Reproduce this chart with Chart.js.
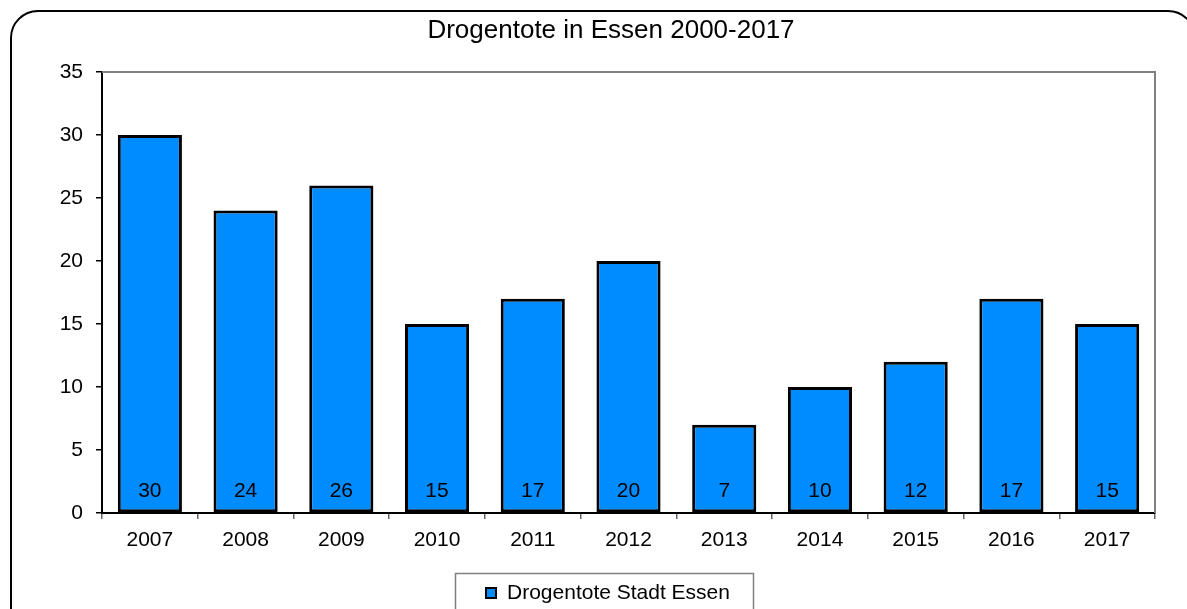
<!DOCTYPE html>
<html>
<head>
<meta charset="utf-8">
<script src="https://cdn.jsdelivr.net/npm/chart.js@4/dist/chart.umd.min.js"></script>
<style>
  html, body { margin: 0; padding: 0; background: #fff; }
  #wrap { width: 1187px; height: 609px; position: relative; }
</style>
</head>
<body>
<div id="wrap"><canvas id="drogenChart" width="1187" height="609"></canvas></div>
<script>
// Daten
const jahre = ['2007', '2008', '2009', '2010', '2011', '2012', '2013', '2014', '2015', '2016', '2017'];
const drogentote = [30, 24, 26, 15, 17, 20, 7, 10, 12, 17, 15];
const yTicks = [0, 5, 10, 15, 20, 25, 30, 35];

const fontName = '"Liberation Sans", Arial, sans-serif';

// Rahmen, Titel, Plotrand, Werte und Legende
const rahmenPlugin = {
    id: 'rahmen',
    beforeDraw(chart) {
        const c = chart.ctx;
        c.save();
        c.fillStyle = '#fff';
        c.fillRect(0, 0, chart.width, chart.height);
        // abgerundeter Rahmen
        c.strokeStyle = '#000';
        c.lineWidth = 2;
        const x = 11, y = 11, w = 1184, h = 650, r = 27;
        c.beginPath();
        c.moveTo(x + r, y);
        c.lineTo(x + w - r, y);
        c.arcTo(x + w, y, x + w, y + r, r);
        c.lineTo(x + w, y + h);
        c.lineTo(x, y + h);
        c.lineTo(x, y + r);
        c.arcTo(x, y, x + r, y, r);
        c.closePath();
        c.stroke();
        // Titel
        c.fillStyle = '#000';
        c.font = '26px ' + fontName;
        c.textAlign = 'center';
        c.textBaseline = 'middle';
        c.fillText('Drogentote in Essen 2000-2017', 611, 31);
        c.restore();
    },
    afterDatasetsDraw(chart) {
        const c = chart.ctx;
        const a = chart.chartArea;
        c.save();
        // grauer Plotrand oben/rechts
        c.strokeStyle = '#808080';
        c.lineWidth = 2;
        c.beginPath();
        c.moveTo(a.left, a.top);
        c.lineTo(a.right, a.top);
        c.lineTo(a.right, a.bottom);
        c.stroke();
        // Werte unten in den Balken
        const meta = chart.getDatasetMeta(0);
        const yS = chart.scales.y;
        c.fillStyle = '#000';
        c.font = '21px ' + fontName;
        c.textAlign = 'center';
        c.textBaseline = 'middle';
        meta.data.forEach((bar, i) => {
            c.fillText(String(drogentote[i]), bar.x, yS.getPixelForValue(0) - 22);
        });
        // Legende
        c.strokeStyle = '#808080';
        c.lineWidth = 1.5;
        c.strokeRect(455.5, 573.5, 298, 50);
        c.fillStyle = '#008cff';
        c.fillRect(486, 588, 10, 10);
        c.strokeStyle = '#000';
        c.lineWidth = 2;
        c.strokeRect(486, 588, 10, 10);
        c.fillStyle = '#000';
        c.textAlign = 'left';
        c.font = '21px ' + fontName;
        c.fillText(chart.data.datasets[0].label, 507, 593);
        c.restore();
    }
};

const ctx = document.getElementById('drogenChart').getContext('2d');
new Chart(ctx, {
    type: 'bar',
    data: {
        labels: jahre,
        datasets: [{
            label: 'Drogentote Stadt Essen',
            data: drogentote,
            backgroundColor: '#008cff',
            borderColor: '#000',
            borderWidth: 3,
            borderSkipped: false,
            barPercentage: 0.67,
            categoryPercentage: 1.0
        }]
    },
    options: {
        responsive: false,
        animation: false,
        layout: { padding: { left: 0, top: 72, right: 32, bottom: 0 } },
        plugins: {
            legend: { display: false },
            title: { display: false },
            tooltip: { enabled: false }
        },
        scales: {
            x: {
                offset: true,
                grid: {
                    offset: true,
                    drawOnChartArea: false,
                    drawTicks: true,
                    tickLength: 6,
                    color: '#666',
                    lineWidth: 1.5
                },
                border: { display: true, color: '#000', width: 2 },
                ticks: {
                    color: '#000',
                    font: { family: fontName, size: 21 },
                    padding: 9,
                    maxRotation: 0
                },
                afterFit(scale) { scale.height = 96; }
            },
            y: {
                min: 0,
                max: 35,
                afterBuildTicks(scale) {
                    scale.ticks = yTicks.map(v => ({ value: v }));
                },
                grid: {
                    drawOnChartArea: false,
                    drawTicks: true,
                    tickLength: 6,
                    color: '#000',
                    lineWidth: 1.5
                },
                border: { display: true, color: '#000', width: 2 },
                ticks: {
                    color: '#000',
                    font: { family: fontName, size: 21 },
                    padding: 13
                },
                afterFit(scale) { scale.width = 102; }
            }
        }
    },
    plugins: [rahmenPlugin]
});
</script>
</body>
</html>
